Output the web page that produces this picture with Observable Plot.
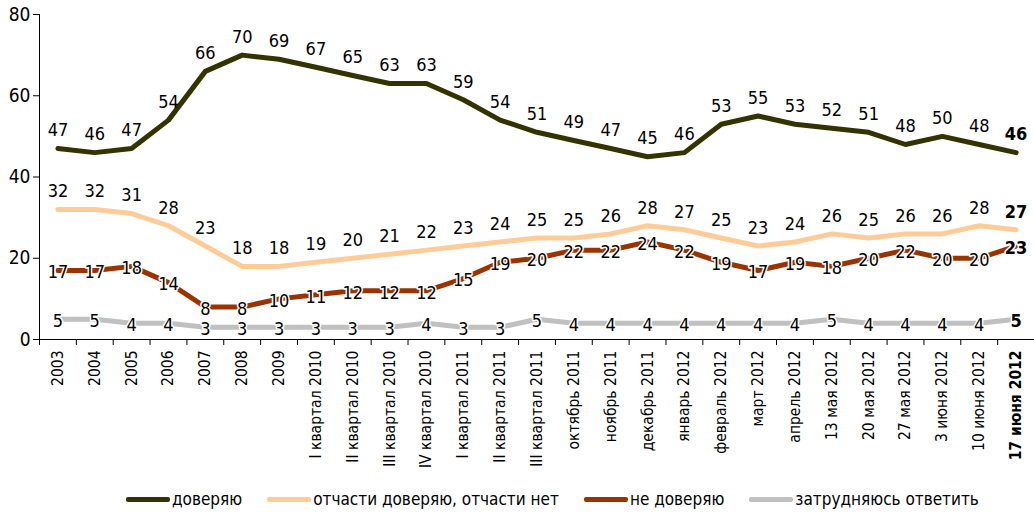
<!DOCTYPE html>
<html><head><meta charset="utf-8">
<script src="https://cdn.jsdelivr.net/npm/d3@7"></script>
<script src="https://cdn.jsdelivr.net/npm/@observablehq/plot@0.6"></script>
<style>
body{margin:0;background:#fff;font-family:"Liberation Sans Narrow","DejaVu Sans Condensed",sans-serif;}
#legend{display:flex;align-items:center;margin-left:126px;margin-top:14px;font-size:17px;color:#000;white-space:nowrap;}
.item{display:flex;align-items:center;margin-right:25px;white-space:nowrap;flex:none;}
.sw{width:44px;height:5px;border-radius:2px;margin-right:2px;}
</style></head>
<body><div id="chart"></div><div id="legend"></div>
<script>
const categories = ["2003","2004","2005","2006","2007","2008","2009","I квартал 2010","II квартал 2010","III квартал 2010","IV квартал 2010","I квартал 2011","II квартал 2011","III квартал 2011","октябрь 2011","ноябрь 2011","декабрь 2011","январь 2012","февраль 2012","март 2012","апрель 2012","13 мая 2012","20 мая 2012","27 мая 2012","3 июня 2012","10 июня 2012","17 июня 2012"];
const trust    = [47,46,47,54,66,70,69,67,65,63,63,59,54,51,49,47,45,46,53,55,53,52,51,48,50,48,46];
const partly   = [32,32,31,28,23,18,18,19,20,21,22,23,24,25,25,26,28,27,25,23,24,26,25,26,26,28,27];
const distrust = [17,17,18,14,8,8,10,11,12,12,12,15,19,20,22,22,24,22,19,17,19,18,20,22,20,20,23];
const hard     = [5,5,4,4,3,3,3,3,3,3,4,3,3,5,4,4,4,4,4,4,4,5,4,4,4,4,5];
const seriesNames  = ["доверяю","отчасти доверяю, отчасти нет","не доверяю","затрудняюсь ответить"];
const seriesColors = ["#333300","#ffcc99","#993300","#c0c0c0"];
const yTicks = [0,20,40,60,80];

const seriesData = [trust, partly, distrust, hard];
const rows = [];
seriesData.forEach((arr, s) => arr.forEach((v, i) => rows.push({series: seriesNames[s], s, i, value: v, last: i === arr.length - 1})));
const drawOrder = [3,2,1,0];
const lineRows = drawOrder.flatMap(s => rows.filter(d => d.s === s));
const above = rows.filter(d => d.s <= 1);
const onLine = rows.filter(d => d.s >= 2);
const n = categories.length;

const font = `"Liberation Sans Narrow","DejaVu Sans Condensed",sans-serif`;
const plot = Plot.plot({
  width: 1034, height: 475,
  marginLeft: 39, marginRight: 0, marginTop: 14, marginBottom: 136,
  style: {fontFamily: font, fontSize: "19px", color: "#000", background: "#fff"},
  x: {type: "linear", domain: [-0.5, n - 0.5]},
  y: {domain: [0, 80]},
  color: {domain: seriesNames, range: seriesColors},
  marks: [
    Plot.ruleY([0], {stroke: "#000", strokeWidth: 1}),
    Plot.ruleX([-0.5], {stroke: "#000", strokeWidth: 1}),
    Plot.axisY({ticks: yTicks, tickSize: 6, tickPadding: 3, label: null, fontSize: 19}),
    Plot.axisX({ticks: d3.range(-0.5, n), tickSize: 6, tickFormat: () => "", label: null}),
    Plot.axisX({ticks: d3.range(0, n), tickSize: 0, tickPadding: 11, tickRotate: -90, tickFormat: i => categories[i], label: null, fontSize: 15.5}),
    Plot.line(lineRows, {x: "i", y: "value", z: "series", stroke: "series", strokeWidth: 5, strokeLinejoin: "round", curve: "linear"}),
    Plot.text(above.filter(d => !d.last), {x: "i", y: "value", text: "value", dy: -18, fontSize: 18, fill: "#000"}),
    Plot.text(above.filter(d => d.last), {x: "i", y: "value", text: "value", dy: -18, fontSize: 18, fontWeight: "bold", fill: "#000"}),
    Plot.text(onLine.filter(d => !d.last), {x: "i", y: "value", text: "value", dy: 2, fontSize: 18, fill: "#000", stroke: "#fff", strokeWidth: 3}),
    Plot.text(onLine.filter(d => d.last), {x: "i", y: "value", text: "value", dy: 2, fontSize: 18, fontWeight: "bold", fill: "#000", stroke: "#fff", strokeWidth: 3})
  ]
});
const tickTexts = d3.select(plot).selectAll("g[aria-label='x-axis tick label'] text");
tickTexts.filter(function(){ return this.textContent === categories[n-1]; }).attr("font-weight", "bold");
document.getElementById("chart").appendChild(plot);

const legend = d3.select("#legend");
seriesNames.forEach((name, k) => {
  const it = legend.append("div").attr("class", "item");
  it.append("div").attr("class", "sw").style("background", seriesColors[k]);
  it.append("span").text(name);
});
</script>
</body></html>
